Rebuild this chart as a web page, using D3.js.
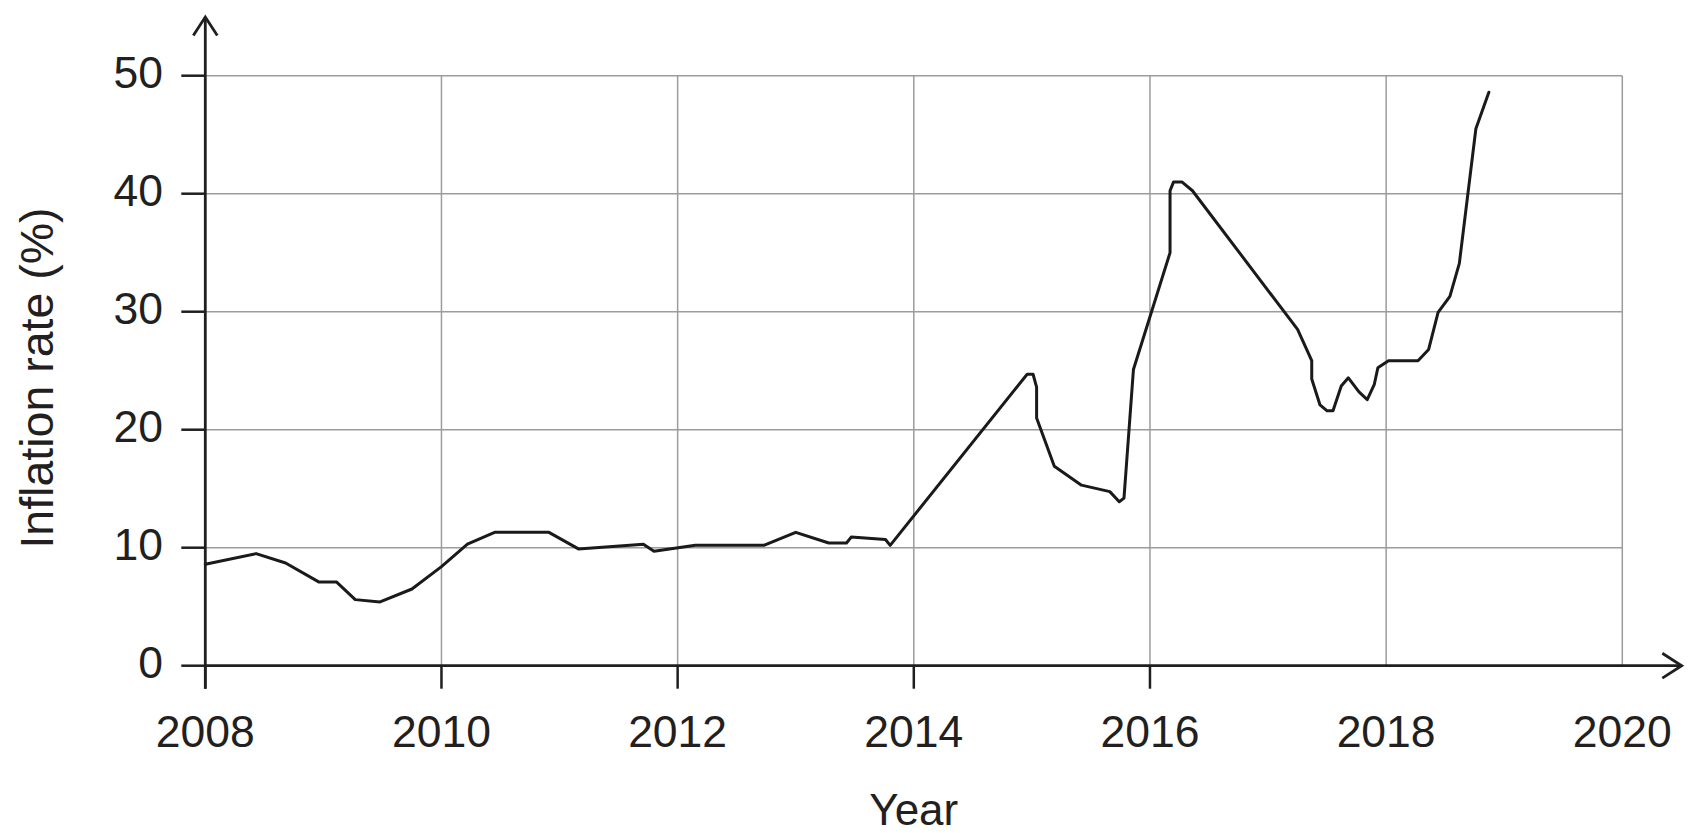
<!DOCTYPE html>
<html>
<head>
<meta charset="utf-8">
<script src="https://cdn.jsdelivr.net/npm/d3@7/dist/d3.min.js"></script>
<style>
  html, body { margin: 0; padding: 0; background: #fff; }
  svg { display: block; }
  text { font-family: "Liberation Sans", Arial, Helvetica, sans-serif; fill: #231f20; }
</style>
</head>
<body>
<svg id="chart" width="1692" height="833"></svg>
<script>
// ---- Data ----
const years = [
  2008.00, 2008.43, 2008.68, 2008.96, 2009.11, 2009.27, 2009.48, 2009.75,
  2010.00, 2010.22, 2010.45, 2010.91, 2011.16, 2011.71, 2011.80, 2012.15,
  2012.73, 2013.00, 2013.28, 2013.43, 2013.47, 2013.76, 2013.80, 2014.96,
  2015.01, 2015.04, 2015.04, 2015.19, 2015.42, 2015.66, 2015.74, 2015.78,
  2015.86, 2016.17, 2016.17, 2016.20, 2016.27, 2016.36, 2017.25, 2017.37,
  2017.37, 2017.44, 2017.50, 2017.55, 2017.62, 2017.68, 2017.77, 2017.84,
  2017.90, 2017.93, 2018.02, 2018.27, 2018.36, 2018.44, 2018.54, 2018.62,
  2018.76, 2018.87
];
const inflation = [
  8.6, 9.5, 8.7, 7.1, 7.1, 5.6, 5.4, 6.5,
  8.4, 10.3, 11.3, 11.3, 9.9, 10.3, 9.7, 10.2,
  10.2, 11.3, 10.4, 10.4, 10.9, 10.7, 10.2, 24.7,
  24.7, 23.6, 21.0, 16.9, 15.3, 14.75, 13.9, 14.2,
  25.1, 35.0, 40.25, 41.0, 41.0, 40.25, 28.5, 25.85,
  24.3, 22.1, 21.6, 21.6, 23.7, 24.4, 23.2, 22.55,
  23.85, 25.25, 25.85, 25.85, 26.8, 29.95, 31.3, 34.1,
  45.5, 48.6
];
const xGridValues = [2010, 2012, 2014, 2016, 2018, 2020];
const xTickValues = [2008, 2010, 2012, 2014, 2016];
const xLabelValues = [2008, 2010, 2012, 2014, 2016, 2018, 2020];
const yTickValues = [0, 10, 20, 30, 40, 50];
const xTitle = "Year";
const yTitle = "Inflation rate (%)";

// ---- Layout ----
const svg = d3.select("#chart");
const x = d3.scaleLinear().domain([2008, 2020]).range([205.3, 1622.3]);
const y = d3.scaleLinear().domain([0, 50]).range([665.7, 75.7]);
const x0 = x(2008), y0 = y(0);

const gridColor = "#9c9c9c";
const inkColor = "#1f1f1f";

// Horizontal gridlines
svg.append("g").selectAll("line").data(yTickValues.filter(d => d > 0)).join("line")
  .attr("x1", x0).attr("x2", x(2020))
  .attr("y1", d => y(d)).attr("y2", d => y(d))
  .attr("stroke", gridColor).attr("stroke-width", 1.5);

// Vertical gridlines
svg.append("g").selectAll("line").data(xGridValues).join("line")
  .attr("x1", d => x(d)).attr("x2", d => x(d))
  .attr("y1", y(50)).attr("y2", y0)
  .attr("stroke", gridColor).attr("stroke-width", 1.5);

// Y axis ticks + labels
const yAxis = svg.append("g");
yAxis.selectAll("line").data(yTickValues).join("line")
  .attr("x1", x0 - 24).attr("x2", x0)
  .attr("y1", d => y(d)).attr("y2", d => y(d))
  .attr("stroke", inkColor).attr("stroke-width", 2.5);
yAxis.selectAll("text").data(yTickValues).join("text")
  .attr("x", 163).attr("y", d => y(d) + 12.6)
  .attr("text-anchor", "end")
  .attr("font-size", 44.5)
  .text(d => d);

// X axis ticks + labels
const xAxis = svg.append("g");
xAxis.selectAll("line").data(xTickValues).join("line")
  .attr("x1", d => x(d)).attr("x2", d => x(d))
  .attr("y1", y0).attr("y2", y0 + 23)
  .attr("stroke", inkColor).attr("stroke-width", 2.5);
xAxis.selectAll("text").data(xLabelValues).join("text")
  .attr("x", d => x(d)).attr("y", y0 + 81)
  .attr("text-anchor", "middle")
  .attr("font-size", 44.5)
  .text(d => d);

// Axis lines with arrows
svg.append("line")
  .attr("x1", x0).attr("x2", x0).attr("y1", y0 + 23).attr("y2", 17)
  .attr("stroke", inkColor).attr("stroke-width", 2.8);
svg.append("polyline")
  .attr("points", `${x0 - 12},${35.5} ${x0},${17} ${x0 + 12},${35.5}`)
  .attr("fill", "none").attr("stroke", inkColor).attr("stroke-width", 2.8)
  .attr("stroke-linejoin", "miter");
svg.append("line")
  .attr("x1", x0).attr("x2", 1681.7).attr("y1", y0).attr("y2", y0)
  .attr("stroke", inkColor).attr("stroke-width", 2.8);
svg.append("polyline")
  .attr("points", `${1662.3},${y0 - 12.4} ${1681.7},${y0} ${1662.3},${y0 + 12.4}`)
  .attr("fill", "none").attr("stroke", inkColor).attr("stroke-width", 2.8);

// Data line
const data = years.map((yr, i) => ({ yr, v: inflation[i] }));
svg.append("path")
  .datum(data)
  .attr("d", d3.line().x(d => x(d.yr)).y(d => y(d.v)))
  .attr("fill", "none")
  .attr("stroke", "#1a1a1a")
  .attr("stroke-width", 3)
  .attr("stroke-linejoin", "round")
  .attr("stroke-linecap", "round");

// Titles
svg.append("text")
  .attr("x", (x0 + x(2020)) / 2).attr("y", 825)
  .attr("text-anchor", "middle")
  .attr("font-size", 44)
  .text(xTitle);
svg.append("text")
  .attr("transform", `translate(53,378) rotate(-90)`)
  .attr("text-anchor", "middle")
  .attr("font-size", 46.5)
  .text(yTitle);
</script>
</body>
</html>
